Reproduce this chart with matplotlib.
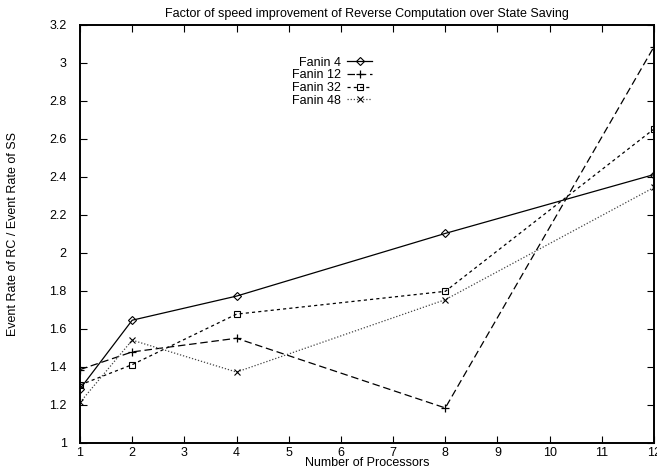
import matplotlib
matplotlib.use("Agg")
import matplotlib.pyplot as plt

plt.rcParams['font.family'] = ['Liberation Sans', 'DejaVu Sans']

processors = [1, 2, 4, 8, 12]
fanin4 = [1.283, 1.645, 1.772, 2.102, 2.412]
fanin12 = [1.385, 1.478, 1.550, 1.183, 3.085]
fanin32 = [1.304, 1.411, 1.677, 1.797, 2.652]
fanin48 = [1.212, 1.540, 1.372, 1.753, 2.344]

xticks = list(range(1, 13))
yticks = [1, 1.2, 1.4, 1.6, 1.8, 2, 2.2, 2.4, 2.6, 2.8, 3, 3.2]
ytick_labels = ["1", "1.2", "1.4", "1.6", "1.8", "2", "2.2", "2.4", "2.6", "2.8", "3", "3.2"]

fig = plt.figure(figsize=(6.57, 4.76), dpi=100)
ax = fig.add_axes([80/657, 1-442.7/476, 574/657, (442.7-24.9)/476])

lw = 0.9
ax.plot(processors, fanin4, color='black', lw=lw, ls='-', marker='D', ms=4,
        mfc='none', mec='black', mew=0.8, label='Fanin 4')
ax.plot(processors, fanin12, color='black', lw=lw, ls=(0, (6, 3)), marker='+', ms=6,
        mew=0.9, label='Fanin 12')
ax.plot(processors, fanin32, color='black', lw=lw, ls=(0, (2.5, 2.5)), marker='s', ms=5,
        mfc='none', mec='black', mew=0.8, label='Fanin 32')
ax.plot(processors, fanin48, color='#444444', lw=lw, ls=(0, (1, 1.5)), marker='x', ms=5,
        mew=0.8, mec='black', label='Fanin 48')

ax.set_xlim(1, 12)
ax.set_ylim(1, 3.2)
ax.set_xticks(xticks)
ax.set_xticklabels([str(t) for t in xticks])
ax.set_yticks(yticks)
ax.set_yticklabels(ytick_labels)
ax.tick_params(axis='both', which='major', direction='in', length=5, width=0.8,
               top=True, right=True, labelsize=9)
ax.tick_params(axis='x', pad=3)
ax.tick_params(axis='y', pad=9.5)
for s in ax.spines.values():
    s.set_linewidth(1.4)

ax.set_title("Factor of speed improvement of Reverse Computation over State Saving",
             fontsize=9, pad=6)
ax.set_xlabel("Number of Processors", fontsize=9, labelpad=-1)
ax.set_ylabel("Event Rate of RC / Event Rate of SS", fontsize=9, labelpad=22)

leg = ax.legend(loc='upper right', bbox_to_anchor=(0.509, 0.924), frameon=False,
                markerfirst=False, fontsize=9, handlelength=2.0, handletextpad=0.5,
                labelspacing=0.05, borderpad=0, borderaxespad=0)

fig.savefig("out.png", dpi=100)
